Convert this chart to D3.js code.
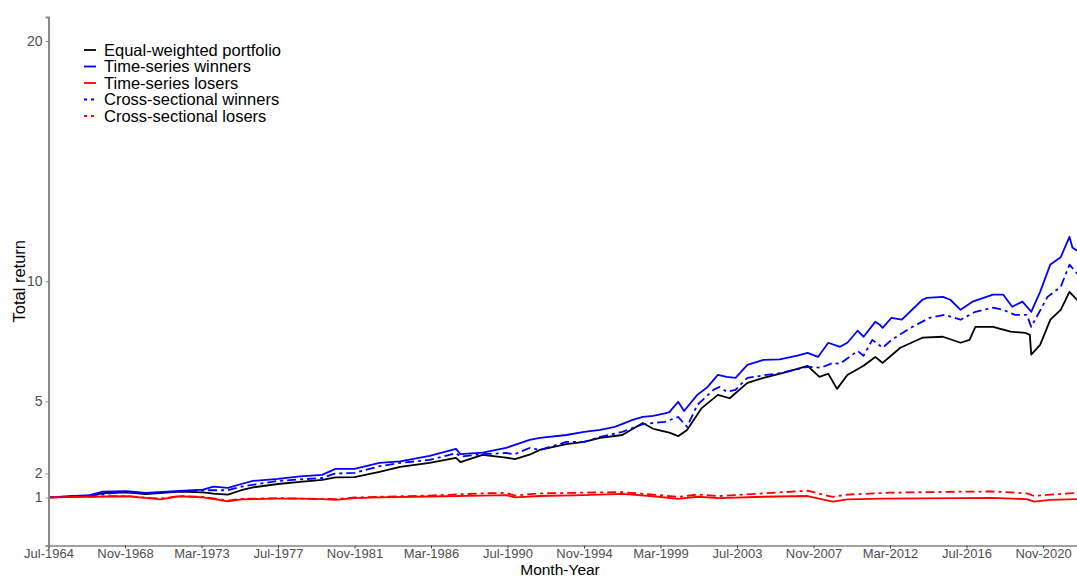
<!DOCTYPE html>
<html>
<head>
<meta charset="utf-8">
<script src="https://cdn.jsdelivr.net/npm/d3@7"></script>
<style>
  html, body { margin: 0; padding: 0; background: #fff; }
  svg { display: block; font-family: "Liberation Sans", Arial, sans-serif; }
</style>
</head>
<body>
<svg id="chart" width="1077" height="578"></svg>
<script>
// ---------------- data ----------------
const seriesNames = ["Equal-weighted portfolio", "Time-series winners", "Time-series losers",
                     "Cross-sectional winners", "Cross-sectional losers"];
const seriesColors = ["#000000", "#0000ff", "#ff0000", "#0000ff", "#ff0000"];
const seriesDashed = [false, false, false, true, true];

const xTickDates = ["1964-07", "1968-11", "1973-03", "1977-07", "1981-11", "1986-03", "1990-07",
                    "1994-11", "1999-03", "2003-07", "2007-11", "2012-03", "2016-07", "2020-11"];
const xTickLabels = ["Jul-1964", "Nov-1968", "Mar-1973", "Jul-1977", "Nov-1981", "Mar-1986", "Jul-1990",
                     "Nov-1994", "Mar-1999", "Jul-2003", "Nov-2007", "Mar-2012", "Jul-2016", "Nov-2020"];
const yTickValues = [1, 2, 5, 10, 20];

const equalWeighted = [
  ["1964-07",1.00],["1965-10",1.03],["1966-11",1.07],["1967-08",1.18],["1968-12",1.21],["1970-01",1.14],
  ["1971-12",1.24],["1973-04",1.21],["1973-11",1.16],["1974-09",1.12],["1975-06",1.30],["1976-02",1.42],
  ["1977-07",1.56],["1978-10",1.65],["1980-01",1.73],["1980-10",1.84],["1981-11",1.85],["1983-04",2.06],
  ["1984-06",2.27],["1986-02",2.44],["1987-08",2.65],["1987-11",2.47],["1989-02",2.77],["1990-06",2.66],
  ["1990-12",2.60],["1991-10",2.78],["1992-05",2.98],["1993-11",3.22],["1994-11",3.31],["1995-10",3.48],
  ["1997-01",3.60],["1998-03",4.10],["1998-10",3.86],["1999-01",3.81],["1999-09",3.70],["2000-03",3.55],
  ["2000-09",3.81],["2001-07",4.72],["2002-06",5.27],["2003-02",5.13],["2004-02",5.77],["2005-01",5.98],
  ["2006-05",6.23],["2007-07",6.48],["2008-03",6.02],["2008-09",6.15],["2009-03",5.52],["2009-10",6.10],
  ["2010-09",6.48],["2011-05",6.85],["2011-10",6.60],["2012-10",7.23],["2014-01",7.65],["2015-03",7.69],
  ["2016-03",7.44],["2016-09",7.56],["2017-01",8.10],["2018-01",8.10],["2019-01",7.90],["2019-11",7.85],
  ["2020-02",7.77],["2020-03",6.95],["2020-09",7.35],["2021-04",8.40],["2021-11",8.81],["2022-05",9.56],
  ["2022-10",9.23],["2022-12",9.20]
];

const tsWinners = [
  ["1964-07",1.00],["1965-10",1.05],["1966-11",1.10],["1967-08",1.24],["1968-12",1.26],["1970-01",1.19],
  ["1971-12",1.27],["1973-04",1.33],["1973-11",1.45],["1974-09",1.40],["1975-06",1.56],["1976-02",1.69],
  ["1977-07",1.77],["1978-10",1.88],["1980-01",1.94],["1980-10",2.19],["1981-11",2.19],["1983-04",2.44],
  ["1984-06",2.50],["1986-02",2.73],["1987-08",3.02],["1987-11",2.80],["1989-02",2.87],["1990-06",3.06],
  ["1991-10",3.40],["1992-05",3.48],["1993-11",3.60],["1994-11",3.73],["1995-10",3.81],["1996-08",3.94],
  ["1997-08",4.23],["1998-03",4.35],["1998-10",4.40],["1999-06",4.50],["1999-09",4.55],["2000-03",4.98],
  ["2000-07",4.60],["2001-04",5.27],["2001-11",5.60],["2002-06",6.10],["2002-12",6.02],["2003-06",5.98],
  ["2004-02",6.52],["2005-01",6.73],["2005-12",6.75],["2006-12",6.90],["2007-07",7.02],["2008-02",6.85],
  ["2008-09",7.44],["2009-05",7.27],["2009-10",7.44],["2010-05",7.94],["2010-09",7.69],["2011-05",8.31],
  ["2011-08",8.19],["2011-10",8.06],["2012-04",8.48],["2012-11",8.40],["2014-01",9.23],["2014-04",9.31],
  ["2015-03",9.35],["2015-08",9.23],["2016-03",8.81],["2016-11",9.15],["2018-01",9.44],["2018-08",9.44],
  ["2019-02",8.94],["2019-09",9.15],["2020-03",8.73],["2020-09",9.56],["2021-04",10.70],["2021-11",11.00],
  ["2022-05",11.85],["2022-07",11.40],["2022-12",11.20]
];

const tsLosers = [
  ["1964-07",1.00],["1966-11",1.03],["1968-12",1.05],["1970-01",0.98],["1970-11",0.92],["1971-12",1.05],
  ["1973-04",1.00],["1974-09",0.84],["1975-06",0.92],["1977-07",0.95],["1978-10",0.95],["1980-01",0.93],
  ["1980-10",0.90],["1981-11",0.97],["1983-04",1.00],["1986-02",1.04],["1989-02",1.08],["1990-06",1.10],
  ["1990-12",1.00],["1992-05",1.06],["1994-11",1.10],["1997-01",1.15],["1998-10",1.05],["2000-03",0.94],
  ["2001-04",1.03],["2002-07",0.97],["2005-01",1.03],["2007-07",1.06],["2008-12",0.83],["2009-10",0.92],
  ["2011-10",0.95],["2016-03",0.97],["2018-01",0.98],["2019-12",0.93],["2020-05",0.83],["2021-04",0.90],
  ["2022-12",0.93]
];

const csWinners = [
  ["1964-07",1.00],["1966-11",1.08],["1968-12",1.24],["1970-01",1.17],["1971-12",1.25],["1973-04",1.30],
  ["1974-09",1.30],["1975-06",1.45],["1977-07",1.69],["1978-10",1.75],["1980-01",1.81],["1980-10",2.00],
  ["1981-11",2.02],["1983-04",2.30],["1984-06",2.44],["1986-02",2.56],["1987-08",2.85],["1987-11",2.70],
  ["1989-02",2.80],["1990-06",2.85],["1990-12",2.80],["1991-10",3.06],["1992-05",2.98],["1993-11",3.31],
  ["1994-11",3.31],["1995-10",3.52],["1997-01",3.73],["1998-03",4.05],["1998-10",4.10],["1999-06",4.15],
  ["2000-03",4.35],["2000-09",3.94],["2001-04",4.85],["2002-03",5.48],["2002-07",5.60],["2002-12",5.40],
  ["2003-06",5.48],["2004-02",5.98],["2005-03",6.10],["2005-12",6.17],["2007-07",6.44],["2008-04",6.40],
  ["2008-12",6.60],["2009-05",6.56],["2010-05",7.10],["2010-09",6.90],["2011-03",7.56],["2011-10",7.23],
  ["2012-04",7.56],["2013-05",8.06],["2014-06",8.48],["2015-04",8.60],["2016-03",8.40],["2017-01",8.73],
  ["2018-01",8.90],["2018-08",8.81],["2019-04",8.60],["2019-12",8.60],["2020-03",8.10],["2021-02",9.35],
  ["2021-11",9.77],["2022-05",10.69],["2022-12",10.19]
];

const csLosers = [
  ["1964-07",1.00],["1966-11",1.04],["1968-12",1.06],["1970-01",0.99],["1970-11",0.95],["1971-12",1.06],
  ["1973-04",1.02],["1974-09",0.87],["1975-06",0.94],["1977-07",0.97],["1980-10",0.93],["1981-11",1.00],
  ["1983-04",1.03],["1986-02",1.08],["1989-02",1.17],["1990-06",1.19],["1990-12",1.08],["1992-05",1.17],
  ["1994-11",1.20],["1997-01",1.22],["1998-10",1.12],["2000-03",1.02],["2001-04",1.12],["2002-07",1.06],
  ["2005-01",1.17],["2007-07",1.28],["2008-12",1.02],["2009-10",1.12],["2012-04",1.20],["2016-03",1.24],
  ["2018-01",1.25],["2019-12",1.17],["2020-05",1.06],["2021-04",1.12],["2022-12",1.20]
];

const allSeries = [equalWeighted, tsWinners, tsLosers, csWinners, csLosers];

// ---------------- chart ----------------
const parse = d3.timeParse("%Y-%m");
const svg = d3.select("#chart");

const x = d3.scaleTime()
  .domain([parse("1964-07"), parse("2023-01")])
  .range([48.5, 1081.3]);
const y = d3.scaleLinear()
  .domain([-1, 21])
  .range([545.5, 17]);

const line = d3.line()
  .x(d => x(parse(d[0])))
  .y(d => y(d[1]));

const plot = svg.append("g");
allSeries.forEach((s, i) => {
  plot.append("path")
    .datum(s)
    .attr("d", line)
    .attr("fill", "none")
    .attr("stroke", seriesColors[i])
    .attr("stroke-width", 1.8)
    .attr("stroke-linejoin", "round")
    .attr("stroke-dasharray", seriesDashed[i] ? "9,4,3,4" : null);
});

// axes
const xAxis = svg.append("g")
  .attr("transform", `translate(0,${y.range()[0]})`)
  .call(d3.axisBottom(x)
    .tickValues(xTickDates.map(parse))
    .tickFormat((d, i) => xTickLabels[i])
    .tickSize(3)
    .tickPadding(0.5));
xAxis.select(".domain").attr("stroke", "#444").attr("stroke-width", 1.2);
xAxis.selectAll(".tick line").attr("stroke", "#444");
xAxis.selectAll(".tick text").attr("fill", "#4d4d4d").style("font-size", "13px");

const yAxis = svg.append("g")
  .attr("transform", `translate(${x.range()[0]},0)`)
  .call(d3.axisLeft(y)
    .tickValues(yTickValues)
    .tickFormat(d3.format("d"))
    .tickSize(3)
    .tickPadding(3));
yAxis.select(".domain").attr("stroke", "#8a8a8a").attr("stroke-width", 2);
yAxis.selectAll(".tick line").attr("stroke", "#8a8a8a");
yAxis.selectAll(".tick text").attr("fill", "#4d4d4d").style("font-size", "14px");

// axis titles
svg.append("text")
  .attr("x", 560).attr("y", 575)
  .attr("text-anchor", "middle")
  .style("font-size", "15.5px")
  .attr("fill", "#000")
  .text("Month-Year");
svg.append("text")
  .attr("transform", `translate(25,${(y.range()[0] + y.range()[1]) / 2}) rotate(-90)`)
  .attr("text-anchor", "middle")
  .style("font-size", "16.5px")
  .attr("fill", "#000")
  .text("Total return");

// legend
const legend = svg.append("g").attr("transform", "translate(84,50)");
seriesNames.forEach((name, i) => {
  const row = legend.append("g").attr("transform", `translate(0,${i * 16.5})`);
  row.append("line")
    .attr("x1", 0).attr("x2", 12).attr("y1", 0).attr("y2", 0)
    .attr("stroke", seriesColors[i])
    .attr("stroke-width", 1.8)
    .attr("stroke-dasharray", seriesDashed[i] ? "3,4" : null);
  row.append("text")
    .attr("x", 20).attr("y", 0)
    .attr("dy", "0.35em")
    .style("font-size", "16.5px")
    .attr("fill", "#000")
    .text(name);
});
</script>
</body>
</html>
